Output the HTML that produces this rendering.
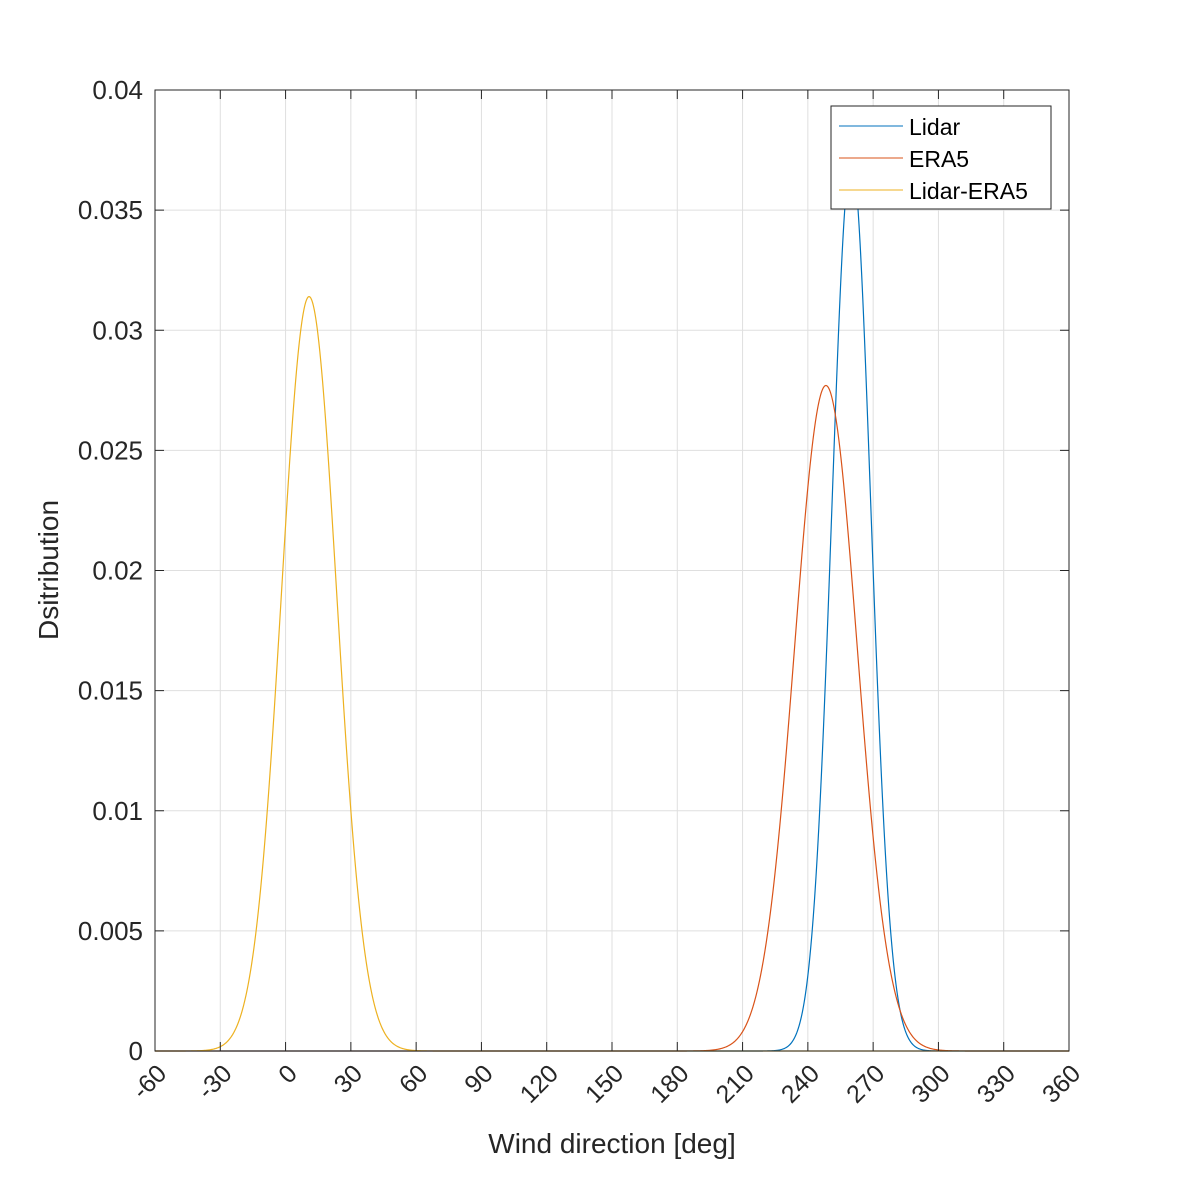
<!DOCTYPE html>
<html><head><meta charset="utf-8"><style>
html,body{margin:0;padding:0;background:#fff;}
svg{display:block;font-family:"Liberation Sans",Helvetica,Arial,sans-serif;}
</style></head><body>
<svg id="chart" width="1181" height="1181" viewBox="0 0 1181 1181" xmlns="http://www.w3.org/2000/svg">
<g id="grid"></g>
<g id="series"></g>
<rect x="155" y="90" width="914" height="961" fill="none" stroke="#262626" stroke-width="1"/>
<g id="ticks"></g>
<text x="612" y="1153" font-size="28" text-anchor="middle" fill="#262626">Wind direction [deg]</text>
<text transform="translate(58,570) rotate(-90)" font-size="28" text-anchor="middle" fill="#262626">Dsitribution</text>
<g>
<rect x="831" y="106" width="220" height="103" fill="#fff" stroke="#262626" stroke-width="1"/>
<line x1="839" y1="126" x2="903" y2="126" stroke="#0072BD" stroke-width="1"/>
<text x="909" y="135" font-size="23" fill="#000">Lidar</text>
<line x1="839" y1="158" x2="903" y2="158" stroke="#D95319" stroke-width="1"/>
<text x="909" y="167" font-size="23" fill="#000">ERA5</text>
<line x1="839" y1="190" x2="903" y2="190" stroke="#EDB120" stroke-width="1"/>
<text x="909" y="199" font-size="23" fill="#000">Lidar-ERA5</text>
</g>
</svg>
<script>
const xTicks = [-60,-30,0,30,60,90,120,150,180,210,240,270,300,330,360];
const yTicks = [0,0.005,0.01,0.015,0.02,0.025,0.03,0.035,0.04];
const yTickLabels = ["0","0.005","0.01","0.015","0.02","0.025","0.03","0.035","0.04"];
const seriesNames = ["Lidar","ERA5","Lidar-ERA5"];
const seriesPeaks = [0.0371,0.0277,0.0314];
const seriesMeans = [260,248.3,10.8];
const seriesSigmas = [9.0,14.4,12.7];
const seriesColors = ["#0072BD","#D95319","#EDB120"];

const L=155,R=1069,T=90,B=1051, xMin=-60,xMax=360,yMin=0,yMax=0.04;
const sx=v=>L+(v-xMin)/(xMax-xMin)*(R-L);
const sy=v=>B-(v-yMin)/(yMax-yMin)*(B-T);
const NS="http://www.w3.org/2000/svg";
const mk=(t,a,p)=>{const e=document.createElementNS(NS,t);for(const k in a)e.setAttribute(k,a[k]);p.appendChild(e);return e;};
const grid=document.getElementById('grid'),ticks=document.getElementById('ticks'),ser=document.getElementById('series');
xTicks.forEach(v=>{
  const g=mk('line',{x1:sx(v),x2:sx(v),y1:T,y2:B,stroke:'#dfdfdf','stroke-width':1},grid);
  
  
  const t1=mk('line',{x1:sx(v),x2:sx(v),y1:B,y2:B-9,stroke:'#262626'},ticks);
  
  
  const t2=mk('line',{x1:sx(v),x2:sx(v),y1:T,y2:T+9,stroke:'#262626'},ticks);
  
  
  const tx=mk('text',{transform:`translate(${sx(v)+13},${B+24}) rotate(-45)`,'font-size':25,'text-anchor':'end',fill:'#262626'},ticks);
  tx.textContent=String(v);
  
  
});
yTicks.forEach((v,i)=>{
  const g=mk('line',{x1:L,x2:R,y1:sy(v),y2:sy(v),stroke:'#dfdfdf','stroke-width':1},grid);
  
  
  const t1=mk('line',{x1:L,x2:L+9,y1:sy(v),y2:sy(v),stroke:'#262626'},ticks);
  
  
  const t2=mk('line',{x1:R,x2:R-9,y1:sy(v),y2:sy(v),stroke:'#262626'},ticks);
  
  
  const tx=mk('text',{x:L-12,y:sy(v)+9,'font-size':26,'text-anchor':'end',fill:'#262626'},ticks);
  tx.textContent=yTickLabels[i];
  
  
});
seriesNames.forEach((n,i)=>{
  let d='';
  for(let x=xMin;x<=xMax;x+=0.25){
    const y=seriesPeaks[i]*Math.exp(-Math.pow(x-seriesMeans[i],2)/(2*seriesSigmas[i]*seriesSigmas[i]));
    d+=(d?'L':'M')+sx(x).toFixed(2)+','+sy(y).toFixed(2);
  }
  const p=mk('path',{d:d,fill:'none',stroke:seriesColors[i],'stroke-width':1.2},ser);
  
  
});
</script>
</body></html>
